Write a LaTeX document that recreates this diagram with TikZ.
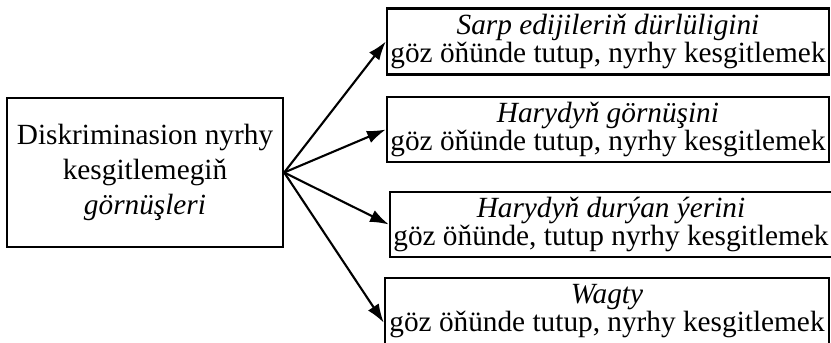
\documentclass[tikz,border=0pt]{standalone}
\usepackage{fontspec}
\setmainfont{Liberation Serif}
\usetikzlibrary{arrows.meta}
\tikzset{
	box/.style={shape=rectangle, draw, line width=2pt, inner sep=1pt, align=center, font=\fontsize{25}{24}\selectfont},
	pil/.style={-{Latex[length=16pt, width=11pt]}, line width=1.8pt}
}
\begin{document}
\begin{tikzpicture}[x=0.03cm, y=-0.03cm]
	% Boxes and arrows:
	\useasboundingbox (0, 0) rectangle (831, 343);
	\node[box, minimum width=8.28cm, minimum height=4.47cm, font=\fontsize{25}{30}\selectfont] (src) at (145, 172.5){Diskriminasion nyrhy\\kesgitlemegiň\\\textit{görnüşleri}};
	\node[box, minimum width=13.26cm, minimum height=1.98cm] (b1) at (608, 41.5){\textit{Sarp edijileriň dürlüligini}\\göz öňünde tutup, nyrhy kesgitlemek};
	\node[box, minimum width=13.26cm, minimum height=1.95cm] (b2) at (608, 129.5){\textit{Harydyň görnüşini}\\göz öňünde tutup, nyrhy kesgitlemek};
	\node[box, minimum width=13.26cm, minimum height=1.95cm] (b3) at (611, 224.5){\textit{Harydyň durýan ýerini}\\göz öňünde, tutup nyrhy kesgitlemek};
	\node[box, minimum width=13.32cm, minimum height=1.98cm] (b4) at (607, 311){\textit{Wagty}\\göz öňünde tutup, nyrhy kesgitlemek};
	\draw[pil] (src.east) -- (b1.west);
	\draw[pil] (src.east) -- (b2.west);
	\draw[pil] (src.east) -- (b3.west);
	\draw[pil] (src.east) -- ([yshift=-10pt]b4.west);
\end{tikzpicture}
\end{document}
